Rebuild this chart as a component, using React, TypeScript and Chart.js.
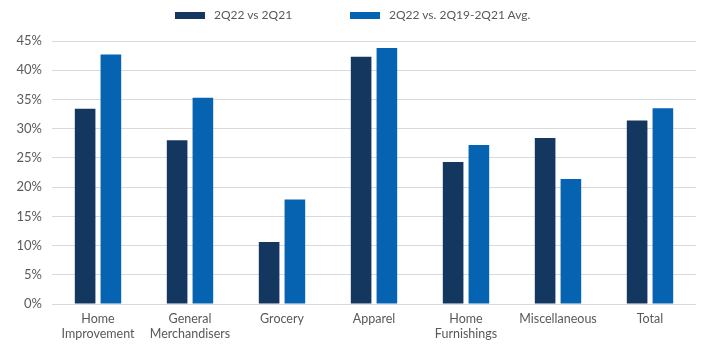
import React, { useEffect, useRef } from "react";
import { Chart, registerables } from "chart.js";

Chart.register(...registerables);

const categories: string[][] = [
  ["Home", "Improvement"],
  ["General", "Merchandisers"],
  ["Grocery"],
  ["Apparel"],
  ["Home", "Furnishings"],
  ["Miscellaneous"],
  ["Total"],
];
const seriesNames = ["2Q22 vs 2Q21", "2Q22 vs. 2Q19-2Q21 Avg."];
const vs2Q21 = [33.4, 28.0, 10.6, 42.3, 24.3, 28.4, 31.4];
const vsAvg = [42.7, 35.3, 17.9, 43.8, 27.2, 21.4, 33.5];
const colors = ["#14375f", "#0563b2"];
const legendLeft = [175, 350];

const FONT = "Lato, 'Source Sans Pro', 'Noto Sans', sans-serif";
const TEXT = "#595959";

export default function App() {
  const ref = useRef<HTMLCanvasElement | null>(null);
  useEffect(() => {
    if (!ref.current) return;
    const chart = new Chart(ref.current, {
      type: "bar",
      data: {
        labels: categories,
        datasets: [
          {
            label: seriesNames[0],
            data: vs2Q21,
            backgroundColor: colors[0],
            categoryPercentage: 0.56,
            barPercentage: 0.8,
          },
          {
            label: seriesNames[1],
            data: vsAvg,
            backgroundColor: colors[1],
            categoryPercentage: 0.56,
            barPercentage: 0.8,
          },
        ],
      },
      options: {
        animation: false,
        responsive: false,
        maintainAspectRatio: false,
        layout: { padding: { top: 41, right: 10, left: 0, bottom: 0 } },
        plugins: { legend: { display: false }, tooltip: { enabled: false } },
        scales: {
          x: {
            grid: { display: false, drawTicks: false },
            border: { display: false },
            ticks: {
              color: TEXT,
              font: { family: FONT, size: 12.5 },
              padding: 7,
              maxRotation: 0,
              autoSkip: false,
            },
            afterFit: (s: any) => {
              s.height = 47;
            },
          },
          y: {
            min: 0,
            max: 45,
            ticks: {
              stepSize: 5,
              color: TEXT,
              font: { family: FONT, size: 13 },
              padding: 10,
              callback: (v: any) => v + "%",
            },
            grid: { color: "#d9d9d9", lineWidth: 1, drawTicks: false },
            border: { display: false },
            afterFit: (s: any) => {
              s.width = 52;
            },
          },
        },
      },
    });
    return () => chart.destroy();
  }, []);

  return (
    <div style={{ position: "fixed", left: 0, top: 0, width: 706, height: 351, background: "#fff" }}>
      <canvas ref={ref} width={706} height={351} style={{ position: "absolute", left: 0, top: 0 }} />
      {seriesNames.map((n, i) => (
        <div
          key={n}
          style={{
            position: "absolute",
            left: legendLeft[i],
            top: 6,
            display: "flex",
            alignItems: "center",
            fontFamily: FONT,
            fontSize: 12,
            color: TEXT,
            lineHeight: "18px",
            whiteSpace: "nowrap",
          }}
        >
          <span style={{ display: "inline-block", width: 30, height: 7, background: colors[i], marginRight: 9 }} />
          <span>{n}</span>
        </div>
      ))}
    </div>
  );
}
